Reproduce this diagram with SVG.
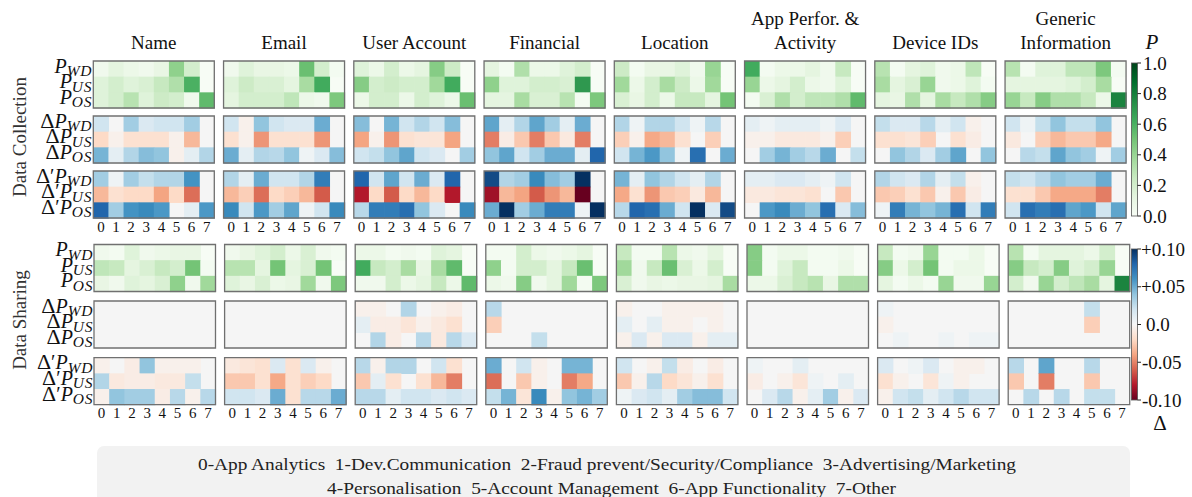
<svg xmlns="http://www.w3.org/2000/svg" width="1192" height="497" viewBox="0 0 1192 497" font-family="Liberation Serif, Times New Roman, serif">
<defs>
<style>
text{font-family:"Liberation Serif","Times New Roman","DejaVu Serif",serif;fill:#111}
.t{font-size:19px;text-anchor:middle}
.side{font-size:19px;text-anchor:middle;fill:#333}
.rl text{font-size:20px;text-anchor:end}
.d{font-size:22px}
.i{font-style:italic}
.s{font-size:15.5px;font-style:italic;letter-spacing:0.6px}
.tk{font-size:15px;text-anchor:middle}
.cb{font-size:19px}
.lg{font-size:17px;fill:#222}
.m rect{width:1.04px;height:1.04px}
.m .bg,.m .bz,.m .f{width:8px;height:3px}
.bg{fill:#f7fcf5}.bz{fill:#f5f5f5}
.f{fill:none;stroke:#707070;stroke-width:1.3;vector-effect:non-scaling-stroke}
.a1{fill:#f3fbf1}.a2{fill:#f0f9ed}.a3{fill:#ecf8e8}.a4{fill:#e9f6e4}.a5{fill:#e5f5e0}.a6{fill:#dff3da}.a7{fill:#d9f0d3}.a8{fill:#d3eecd}.a9{fill:#cdebc6}.a10{fill:#c7e9c0}.a11{fill:#bfe6b9}.a12{fill:#b8e3b1}.a13{fill:#b0dfaa}.a14{fill:#a9dca2}.a15{fill:#a1d99b}.a16{fill:#98d594}.a17{fill:#8fd18c}.a18{fill:#86cc85}.a19{fill:#7dc87d}.a20{fill:#74c476}.a21{fill:#6abf71}.a22{fill:#60ba6c}.a23{fill:#4bb062}.a24{fill:#41ab5d}.a25{fill:#2f984f}.a26{fill:#1b843f}
.b05{fill:#eef3f5}.b1{fill:#e4eef3}.b15{fill:#dbe9f2}.b2{fill:#d1e5f0}.b24{fill:#c4dfec}.b28{fill:#b8d8e9}.b3{fill:#b2d5e7}.b35{fill:#a2cde3}.b4{fill:#92c5de}.b43{fill:#86bdda}.b47{fill:#76b4d5}.b5{fill:#6bacd1}.b53{fill:#5fa5cc}.b58{fill:#4b98c6}.b6{fill:#4393c3}.b66{fill:#398abc}.b7{fill:#327db8}.b76{fill:#286fb1}.b8{fill:#2166ac}.b9{fill:#134b86}.b10{fill:#053061}
.r05{fill:#f8f0eb}.r07{fill:#f9ece5}.r1{fill:#fae9df}.r13{fill:#fbe5d8}.r16{fill:#fce1d1}.r2{fill:#fddbc7}.r24{fill:#fbcfb8}.r27{fill:#fac8af}.r33{fill:#f7b89a}.r38{fill:#f5a987}.r4{fill:#f4a582}.r44{fill:#ed9576}.r5{fill:#e37d64}.r56{fill:#dc6e58}.r6{fill:#d35b4a}.r8{fill:#b2182b}.r85{fill:#9f1228}.r10{fill:#67001f}
</style>
<linearGradient id="gp" x1="0" y1="1" x2="0" y2="0">
<stop offset="0" stop-color="#f7fcf5"/><stop offset=".125" stop-color="#e5f5e0"/><stop offset=".25" stop-color="#c7e9c0"/><stop offset=".375" stop-color="#a1d99b"/><stop offset=".5" stop-color="#74c476"/><stop offset=".625" stop-color="#41ab5d"/><stop offset=".75" stop-color="#238b45"/><stop offset=".875" stop-color="#006d2c"/><stop offset="1" stop-color="#00441b"/>
</linearGradient>
<linearGradient id="gd" x1="0" y1="1" x2="0" y2="0">
<stop offset="0" stop-color="#67001f"/><stop offset=".1" stop-color="#b2182b"/><stop offset=".2" stop-color="#d6604d"/><stop offset=".3" stop-color="#f4a582"/><stop offset=".4" stop-color="#fddbc7"/><stop offset=".5" stop-color="#f7f7f7"/><stop offset=".6" stop-color="#d1e5f0"/><stop offset=".7" stop-color="#92c5de"/><stop offset=".8" stop-color="#4393c3"/><stop offset=".9" stop-color="#2166ac"/><stop offset="1" stop-color="#053061"/>
</linearGradient>
<text id="tkc" class="tk" x="7.6 22.7 37.8 52.9 68.1 83.2 98.3 113.4" y="231.5">01234567</text>
<text id="tks" class="tk" x="7.6 22.8 38 53.2 68.3 83.5 98.7 113.9" y="417.5">01234567</text>
</defs>

<!-- column titles -->
<g id="titles" class="t">
<text x="153.8" y="49">Name</text>
<text x="284" y="49">Email</text>
<text x="414.3" y="49">User Account</text>
<text x="544.6" y="49">Financial</text>
<text x="674.8" y="49">Location</text>
<text x="805.1" y="25">App Perfor. &amp;</text>
<text x="805.1" y="49">Activity</text>
<text x="935.3" y="49">Device IDs</text>
<text x="1065.6" y="25">Generic</text>
<text x="1065.6" y="49">Information</text>
</g>

<!-- section labels -->
<text class="side" transform="translate(26 137) rotate(-90)">Data Collection</text>
<text class="side" transform="translate(26 320) rotate(-90)">Data Sharing</text>

<!-- row labels -->
<g id="row-labels" class="rl">
<text x="92" y="72.5"><tspan class="i">P</tspan><tspan class="s" dy="3.5">WD</tspan></text>
<text x="92" y="88.2"><tspan class="i">P</tspan><tspan class="s" dy="3.5">US</tspan></text>
<text x="92" y="103.8"><tspan class="i">P</tspan><tspan class="s" dy="3.5">OS</tspan></text>
<text x="92" y="127.5"><tspan class="d">Δ</tspan><tspan class="i">P</tspan><tspan class="s" dy="3.5">WD</tspan></text>
<text x="92" y="143.2"><tspan class="d">Δ</tspan><tspan class="i">P</tspan><tspan class="s" dy="3.5">US</tspan></text>
<text x="92" y="158.8"><tspan class="d">Δ</tspan><tspan class="i">P</tspan><tspan class="s" dy="3.5">OS</tspan></text>
<text x="92" y="182.5"><tspan class="d">Δ</tspan>′<tspan class="i">P</tspan><tspan class="s" dy="3.5">WD</tspan></text>
<text x="92" y="198.2"><tspan class="d">Δ</tspan>′<tspan class="i">P</tspan><tspan class="s" dy="3.5">US</tspan></text>
<text x="92" y="213.8"><tspan class="d">Δ</tspan>′<tspan class="i">P</tspan><tspan class="s" dy="3.5">OS</tspan></text>
<text x="93" y="256"><tspan class="i">P</tspan><tspan class="s" dy="3.5">WD</tspan></text>
<text x="93" y="271.7"><tspan class="i">P</tspan><tspan class="s" dy="3.5">US</tspan></text>
<text x="93" y="287.3"><tspan class="i">P</tspan><tspan class="s" dy="3.5">OS</tspan></text>
<text x="93" y="312.5"><tspan class="d">Δ</tspan><tspan class="i">P</tspan><tspan class="s" dy="3.5">WD</tspan></text>
<text x="93" y="328.2"><tspan class="d">Δ</tspan><tspan class="i">P</tspan><tspan class="s" dy="3.5">US</tspan></text>
<text x="93" y="343.8"><tspan class="d">Δ</tspan><tspan class="i">P</tspan><tspan class="s" dy="3.5">OS</tspan></text>
<text x="93" y="369.2"><tspan class="d">Δ</tspan>′<tspan class="i">P</tspan><tspan class="s" dy="3.5">WD</tspan></text>
<text x="93" y="384.9"><tspan class="d">Δ</tspan>′<tspan class="i">P</tspan><tspan class="s" dy="3.5">US</tspan></text>
<text x="93" y="400.5"><tspan class="d">Δ</tspan>′<tspan class="i">P</tspan><tspan class="s" dy="3.5">OS</tspan></text>
</g>

<!-- Name -->
<g id="col-name-p" class="m" transform="translate(93.3 61) scale(15.125 15.667)"><rect class="bg"/>
<rect class="a2"/><rect x="1" class="a5"/><rect x="2" class="a3"/><rect x="3" class="a2"/><rect x="4" class="a4"/><rect x="5" class="a17"/><rect x="6" class="a8"/>
<rect y="1" class="a6"/><rect x="1" y="1" class="a8"/><rect x="2" y="1" class="a6"/><rect x="3" y="1" class="a7"/><rect x="4" y="1" class="a10"/><rect x="5" y="1" class="a13"/><rect x="6" y="1" class="a23"/>
<rect y="2" class="a6"/><rect x="1" y="2" class="a8"/><rect x="2" y="2" class="a12"/><rect x="3" y="2" class="a6"/><rect x="4" y="2" class="a9"/><rect x="5" y="2" class="a8"/><rect x="6" y="2" class="a2"/><rect x="7" y="2" class="a22"/>
<rect class="f"/></g>
<g id="col-name-dp" class="m" transform="translate(93.3 116) scale(15.125 15.667)"><rect class="bz"/>
<rect class="b2"/><rect x="2" class="b35"/><rect x="3" class="b15"/><rect x="4" class="b2"/><rect x="5" class="b2"/><rect x="6" class="b35"/>
<rect y="1" class="r2"/><rect x="1" y="1" class="r05"/><rect x="2" y="1" class="r16"/><rect x="3" y="1" class="r16"/><rect x="4" y="1" class="r16"/><rect x="5" y="1" class="r05"/><rect x="6" y="1" class="r33"/>
<rect y="2" class="b47"/><rect x="1" y="2" class="b1"/><rect x="2" y="2" class="b3"/><rect x="3" y="2" class="b43"/><rect x="4" y="2" class="b4"/><rect x="5" y="2" class="r05"/><rect x="6" y="2" class="b1"/><rect x="7" y="2" class="b3"/>
<rect class="f"/></g>
<g id="col-name-dpp" class="m" transform="translate(93.3 171) scale(15.125 15.667)"><rect class="bz"/>
<rect class="b35"/><rect x="1" class="b05"/><rect x="2" class="b35"/><rect x="3" class="b24"/><rect x="4" class="b3"/><rect x="5" class="b3"/><rect x="6" class="b6"/>
<rect y="1" class="r33"/><rect x="1" y="1" class="r16"/><rect x="2" y="1" class="r2"/><rect x="3" y="1" class="r2"/><rect x="4" y="1" class="r4"/><rect x="5" y="1" class="r2"/><rect x="6" y="1" class="r56"/>
<rect y="2" class="b8"/><rect x="1" y="2" class="b35"/><rect x="2" y="2" class="b6"/><rect x="3" y="2" class="b66"/><rect x="4" y="2" class="b58"/><rect x="6" y="2" class="b1"/><rect x="7" y="2" class="b58"/>
<rect class="f"/></g>
<g id="sha-name-p" class="m" transform="translate(94 244.5) scale(15.1875 15.667)"><rect class="bg"/>
<rect class="a2"/><rect x="1" class="a1"/><rect x="2" class="a6"/><rect x="3" class="a2"/><rect x="4" class="a3"/><rect x="5" class="a4"/><rect x="6" class="a4"/>
<rect y="1" class="a11"/><rect x="1" y="1" class="a10"/><rect x="2" y="1" class="a5"/><rect x="3" y="1" class="a7"/><rect x="4" y="1" class="a10"/><rect x="5" y="1" class="a8"/><rect x="6" y="1" class="a20"/><rect x="7" y="1" class="a1"/>
<rect y="2" class="a4"/><rect x="1" y="2" class="a2"/><rect x="2" y="2" class="a6"/><rect x="3" y="2" class="a5"/><rect x="4" y="2" class="a7"/><rect x="5" y="2" class="a17"/><rect x="6" y="2" class="a2"/><rect x="7" y="2" class="a15"/>
<rect class="f"/></g>
<g id="sha-name-dp" class="m" transform="translate(94 301) scale(15.1875 15.667)"><rect class="bz"/><rect class="f"/></g>
<g id="sha-name-dpp" class="m" transform="translate(94 357.7) scale(15.1875 15.667)"><rect class="bz"/>
<rect class="r05"/><rect x="2" class="r07"/><rect x="3" class="b4"/><rect x="4" class="r05"/><rect x="5" class="r05"/><rect x="6" class="r05"/>
<rect y="1" class="b3"/><rect x="1" y="1" class="r1"/><rect x="2" y="1" class="r07"/><rect x="3" y="1" class="r07"/><rect x="4" y="1" class="r1"/><rect x="5" y="1" class="r1"/><rect x="6" y="1" class="b24"/>
<rect y="2" class="r05"/><rect x="1" y="2" class="b4"/><rect x="2" y="2" class="b35"/><rect x="3" y="2" class="b35"/><rect x="4" y="2" class="r07"/><rect x="5" y="2" class="b28"/><rect x="6" y="2" class="r05"/><rect x="7" y="2" class="b28"/>
<rect class="f"/></g>

<!-- Email -->
<g id="col-email-p" class="m" transform="translate(223.55 61) scale(15.125 15.667)"><rect class="bg"/>
<rect class="a2"/><rect x="1" class="a6"/><rect x="2" class="a4"/><rect x="3" class="a4"/><rect x="4" class="a3"/><rect x="5" class="a21"/><rect x="6" class="a8"/><rect x="7" class="a1"/>
<rect y="1" class="a6"/><rect x="1" y="1" class="a9"/><rect x="2" y="1" class="a7"/><rect x="3" y="1" class="a7"/><rect x="4" y="1" class="a5"/><rect x="5" y="1" class="a14"/><rect x="6" y="1" class="a24"/>
<rect y="2" class="a5"/><rect x="1" y="2" class="a8"/><rect x="2" y="2" class="a8"/><rect x="3" y="2" class="a8"/><rect x="4" y="2" class="a11"/><rect x="5" y="2" class="a3"/><rect x="6" y="2" class="a2"/><rect x="7" y="2" class="a19"/>
<rect class="f"/></g>
<g id="col-email-dp" class="m" transform="translate(223.55 116) scale(15.125 15.667)"><rect class="bz"/>
<rect class="b2"/><rect x="1" class="r05"/><rect x="2" class="b4"/><rect x="3" class="b2"/><rect x="4" class="b15"/><rect x="5" class="b15"/><rect x="6" class="b5"/>
<rect y="1" class="r16"/><rect x="1" y="1" class="r05"/><rect x="2" y="1" class="r44"/><rect x="3" y="1" class="r16"/><rect x="4" y="1" class="r16"/><rect x="5" y="1" class="r16"/><rect x="6" y="1" class="r44"/>
<rect y="2" class="b5"/><rect x="1" y="2" class="b1"/><rect x="2" y="2" class="b3"/><rect x="3" y="2" class="b28"/><rect x="4" y="2" class="b4"/><rect x="5" y="2" class="b05"/><rect x="6" y="2" class="b15"/><rect x="7" y="2" class="b43"/>
<rect class="f"/></g>
<g id="col-email-dpp" class="m" transform="translate(223.55 171) scale(15.125 15.667)"><rect class="bz"/>
<rect class="b3"/><rect x="1" class="b1"/><rect x="2" class="b5"/><rect x="3" class="b2"/><rect x="4" class="b2"/><rect x="5" class="b3"/><rect x="6" class="b7"/>
<rect y="1" class="r33"/><rect x="1" y="1" class="r24"/><rect x="2" y="1" class="r56"/><rect x="3" y="1" class="r2"/><rect x="4" y="1" class="r24"/><rect x="5" y="1" class="r33"/><rect x="6" y="1" class="r6"/>
<rect y="2" class="b66"/><rect x="1" y="2" class="b2"/><rect x="2" y="2" class="b58"/><rect x="3" y="2" class="b35"/><rect x="4" y="2" class="b53"/><rect x="5" y="2" class="b05"/><rect x="6" y="2" class="b2"/><rect x="7" y="2" class="b66"/>
<rect class="f"/></g>
<g id="sha-email-p" class="m" transform="translate(224.6 244.5) scale(15.1875 15.667)"><rect class="bg"/>
<rect class="a2"/><rect x="1" class="a4"/><rect x="2" class="a6"/><rect x="3" class="a8"/><rect x="4" class="a3"/><rect x="5" class="a7"/><rect x="6" class="a2"/><rect x="7" class="a1"/>
<rect y="1" class="a12"/><rect x="1" y="1" class="a12"/><rect x="2" y="1" class="a5"/><rect x="3" y="1" class="a20"/><rect x="4" y="1" class="a5"/><rect x="5" y="1" class="a7"/><rect x="6" y="1" class="a20"/>
<rect y="2" class="a6"/><rect x="1" y="2" class="a4"/><rect x="2" y="2" class="a7"/><rect x="3" y="2" class="a3"/><rect x="4" y="2" class="a4"/><rect x="5" y="2" class="a15"/><rect x="6" y="2" class="a2"/><rect x="7" y="2" class="a19"/>
<rect class="f"/></g>
<g id="sha-email-dp" class="m" transform="translate(224.6 301) scale(15.1875 15.667)"><rect class="bz"/><rect class="f"/></g>
<g id="sha-email-dpp" class="m" transform="translate(224.6 357.7) scale(15.1875 15.667)"><rect class="bz"/>
<rect class="r1"/><rect x="1" class="r13"/><rect x="2" class="r16"/><rect x="3" class="b15"/><rect x="4" class="r16"/><rect x="5" class="b15"/><rect x="6" class="r05"/>
<rect y="1" class="r27"/><rect x="1" y="1" class="r27"/><rect x="2" y="1" class="r16"/><rect x="3" y="1" class="r38"/><rect x="4" y="1" class="r16"/><rect x="5" y="1" class="r24"/><rect x="6" y="1" class="r2"/>
<rect y="2" class="b2"/><rect x="1" y="2" class="b2"/><rect x="2" y="2" class="b15"/><rect x="3" y="2" class="b5"/><rect x="4" y="2" class="r16"/><rect x="5" y="2" class="b28"/><rect x="6" y="2" class="b28"/><rect x="7" y="2" class="b5"/>
<rect class="f"/></g>

<!-- User Account -->
<g id="col-user-p" class="m" transform="translate(353.8 61) scale(15.125 15.667)"><rect class="bg"/>
<rect class="a6"/><rect x="1" class="a3"/><rect x="2" class="a8"/><rect x="3" class="a3"/><rect x="4" class="a5"/><rect x="5" class="a18"/><rect x="6" class="a9"/>
<rect y="1" class="a18"/><rect x="1" y="1" class="a8"/><rect x="2" y="1" class="a9"/><rect x="3" y="1" class="a8"/><rect x="4" y="1" class="a8"/><rect x="5" y="1" class="a15"/><rect x="6" y="1" class="a24"/>
<rect y="2" class="a3"/><rect x="1" y="2" class="a8"/><rect x="2" y="2" class="a8"/><rect x="3" y="2" class="a3"/><rect x="4" y="2" class="a8"/><rect x="5" y="2" class="a6"/><rect x="6" y="2" class="a3"/><rect x="7" y="2" class="a21"/>
<rect class="f"/></g>
<g id="col-user-dp" class="m" transform="translate(353.8 116) scale(15.125 15.667)"><rect class="bz"/>
<rect class="b43"/><rect x="2" class="b47"/><rect x="3" class="b2"/><rect x="4" class="b3"/><rect x="5" class="b2"/><rect x="6" class="b43"/>
<rect y="1" class="r4"/><rect x="1" y="1" class="r05"/><rect x="2" y="1" class="r44"/><rect x="3" y="1" class="r16"/><rect x="4" y="1" class="r13"/><rect x="5" y="1" class="r13"/><rect x="6" y="1" class="r4"/>
<rect y="2" class="b2"/><rect x="1" y="2" class="b24"/><rect x="2" y="2" class="b4"/><rect x="3" y="2" class="b53"/><rect x="4" y="2" class="b2"/><rect x="5" y="2" class="b15"/><rect x="7" y="2" class="b35"/>
<rect class="f"/></g>
<g id="col-user-dpp" class="m" transform="translate(353.8 171) scale(15.125 15.667)"><rect class="bz"/>
<rect class="b8"/><rect x="1" class="b2"/><rect x="2" class="b53"/><rect x="3" class="b2"/><rect x="4" class="b5"/><rect x="5" class="b15"/><rect x="6" class="b8"/>
<rect y="1" class="r8"/><rect x="1" y="1" class="r2"/><rect x="2" y="1" class="r6"/><rect x="3" y="1" class="r2"/><rect x="4" y="1" class="r33"/><rect x="5" y="1" class="r2"/><rect x="6" y="1" class="r8"/>
<rect y="2" class="b28"/><rect x="1" y="2" class="b7"/><rect x="2" y="2" class="b7"/><rect x="3" y="2" class="b76"/><rect x="4" y="2" class="b4"/><rect x="5" y="2" class="b15"/><rect x="7" y="2" class="b66"/>
<rect class="f"/></g>
<g id="sha-user-p" class="m" transform="translate(355.2 244.5) scale(15.1875 15.667)"><rect class="bg"/>
<rect class="a3"/><rect x="1" class="a3"/><rect x="2" class="a1"/><rect x="3" class="a2"/><rect x="4" class="a1"/><rect x="5" class="a6"/><rect x="6" class="a5"/>
<rect y="1" class="a24"/><rect x="1" y="1" class="a10"/><rect x="2" y="1" class="a8"/><rect x="3" y="1" class="a14"/><rect x="4" y="1" class="a4"/><rect x="5" y="1" class="a14"/><rect x="6" y="1" class="a22"/>
<rect y="2" class="a2"/><rect x="1" y="2" class="a2"/><rect x="2" y="2" class="a8"/><rect x="3" y="2" class="a3"/><rect x="4" y="2" class="a5"/><rect x="5" y="2" class="a10"/><rect x="6" y="2" class="a3"/><rect x="7" y="2" class="a22"/>
<rect class="f"/></g>
<g id="sha-user-dp" class="m" transform="translate(355.2 301) scale(15.1875 15.667)"><rect class="bz"/>
<rect class="r05"/><rect x="1" class="r05"/><rect x="3" class="b3"/><rect x="5" class="r05"/><rect x="6" class="r07"/>
<rect y="1" class="b1"/><rect x="1" y="1" class="r07"/><rect x="2" y="1" class="r07"/><rect x="3" y="1" class="r13"/><rect x="4" y="1" class="r05"/><rect x="5" y="1" class="r1"/><rect x="6" y="1" class="r16"/>
<rect x="1" y="2" class="b3"/><rect x="2" y="2" class="r07"/><rect x="4" y="2" class="b28"/><rect x="5" y="2" class="r1"/><rect x="6" y="2" class="b28"/><rect x="7" y="2" class="b15"/>
<rect class="f"/></g>
<g id="sha-user-dpp" class="m" transform="translate(355.2 357.7) scale(15.1875 15.667)"><rect class="bz"/>
<rect class="b28"/><rect x="1" class="r05"/><rect x="2" class="b3"/><rect x="3" class="b3"/><rect x="5" class="b2"/><rect x="6" class="r16"/>
<rect y="1" class="r27"/><rect x="1" y="1" class="b1"/><rect x="2" y="1" class="r16"/><rect x="4" y="1" class="r16"/><rect x="5" y="1" class="r33"/><rect x="6" y="1" class="r5"/>
<rect y="2" class="b28"/><rect x="1" y="2" class="b28"/><rect x="2" y="2" class="b1"/><rect x="3" y="2" class="b2"/><rect x="4" y="2" class="b2"/><rect x="5" y="2" class="b15"/><rect x="6" y="2" class="b2"/><rect x="7" y="2" class="b15"/>
<rect class="f"/></g>

<!-- Financial -->
<g id="col-fin-p" class="m" transform="translate(484.05 61) scale(15.125 15.667)"><rect class="bg"/>
<rect class="a5"/><rect x="1" class="a1"/><rect x="2" class="a13"/><rect x="3" class="a3"/><rect x="4" class="a3"/><rect x="5" class="a6"/><rect x="6" class="a8"/>
<rect y="1" class="a17"/><rect x="1" y="1" class="a6"/><rect x="2" y="1" class="a6"/><rect x="3" y="1" class="a8"/><rect x="4" y="1" class="a8"/><rect x="5" y="1" class="a7"/><rect x="6" y="1" class="a25"/>
<rect y="2" class="a5"/><rect x="1" y="2" class="a5"/><rect x="2" y="2" class="a14"/><rect x="3" y="2" class="a7"/><rect x="4" y="2" class="a7"/><rect x="5" y="2" class="a12"/><rect x="6" y="2" class="a1"/><rect x="7" y="2" class="a19"/>
<rect class="f"/></g>
<g id="col-fin-dp" class="m" transform="translate(484.05 116) scale(15.125 15.667)"><rect class="bz"/>
<rect class="b53"/><rect x="1" class="b1"/><rect x="2" class="b3"/><rect x="3" class="b53"/><rect x="4" class="b35"/><rect x="5" class="b1"/><rect x="6" class="b5"/>
<rect y="1" class="r5"/><rect x="1" y="1" class="r07"/><rect x="2" y="1" class="r27"/><rect x="3" y="1" class="r5"/><rect x="4" y="1" class="r27"/><rect x="5" y="1" class="r1"/><rect x="6" y="1" class="r5"/>
<rect y="2" class="b4"/><rect x="1" y="2" class="b53"/><rect x="2" y="2" class="b2"/><rect x="3" y="2" class="b35"/><rect x="4" y="2" class="b5"/><rect x="5" y="2" class="b5"/><rect x="6" y="2" class="b1"/><rect x="7" y="2" class="b8"/>
<rect class="f"/></g>
<g id="col-fin-dpp" class="m" transform="translate(484.05 171) scale(15.125 15.667)"><rect class="bz"/>
<rect class="b9"/><rect x="1" class="b3"/><rect x="2" class="b35"/><rect x="3" class="b66"/><rect x="4" class="b43"/><rect x="5" class="b35"/><rect x="6" class="b10"/>
<rect y="1" class="r85"/><rect x="1" y="1" class="r33"/><rect x="2" y="1" class="r4"/><rect x="3" y="1" class="r6"/><rect x="4" y="1" class="r44"/><rect x="5" y="1" class="r33"/><rect x="6" y="1" class="r10"/>
<rect y="2" class="b5"/><rect x="1" y="2" class="b10"/><rect x="2" y="2" class="b35"/><rect x="3" y="2" class="b5"/><rect x="4" y="2" class="b7"/><rect x="5" y="2" class="b7"/><rect x="6" y="2" class="b05"/><rect x="7" y="2" class="b10"/>
<rect class="f"/></g>
<g id="sha-fin-p" class="m" transform="translate(485.8 244.5) scale(15.1875 15.667)"><rect class="bg"/>
<rect class="a1"/><rect x="1" class="a1"/><rect x="2" class="a8"/><rect x="3" class="a3"/><rect x="4" class="a2"/><rect x="5" class="a3"/><rect x="6" class="a5"/>
<rect y="1" class="a17"/><rect x="1" y="1" class="a1"/><rect x="2" y="1" class="a8"/><rect x="3" y="1" class="a8"/><rect x="4" y="1" class="a5"/><rect x="5" y="1" class="a10"/><rect x="6" y="1" class="a21"/>
<rect y="2" class="a3"/><rect x="1" y="2" class="a2"/><rect x="2" y="2" class="a18"/><rect x="3" y="2" class="a2"/><rect x="4" y="2" class="a5"/><rect x="5" y="2" class="a15"/><rect x="6" y="2" class="a1"/><rect x="7" y="2" class="a19"/>
<rect class="f"/></g>
<g id="sha-fin-dp" class="m" transform="translate(485.8 301) scale(15.1875 15.667)"><rect class="bz"/>
<rect class="b28"/><rect y="1" class="r24"/><rect x="3" y="2" class="b24"/>
<rect class="f"/></g>
<g id="sha-fin-dpp" class="m" transform="translate(485.8 357.7) scale(15.1875 15.667)"><rect class="bz"/>
<rect class="b5"/><rect x="2" class="b2"/><rect x="3" class="r05"/><rect x="5" class="b47"/><rect x="6" class="b47"/>
<rect y="1" class="r56"/><rect x="2" y="1" class="r27"/><rect x="3" y="1" class="r05"/><rect x="5" y="1" class="r5"/><rect x="6" y="1" class="r38"/>
<rect y="2" class="b24"/><rect x="1" y="2" class="b47"/><rect x="2" y="2" class="r13"/><rect x="3" y="2" class="b66"/><rect x="4" y="2" class="r05"/><rect x="5" y="2" class="b4"/><rect x="6" y="2" class="b47"/><rect x="7" y="2" class="b35"/>
<rect class="f"/></g>

<!-- Location -->
<g id="col-loc-p" class="m" transform="translate(614.3 61) scale(15.125 15.667)"><rect class="bg"/>
<rect class="a9"/><rect x="1" class="a1"/><rect x="2" class="a4"/><rect x="3" class="a4"/><rect x="4" class="a6"/><rect x="5" class="a2"/><rect x="6" class="a16"/>
<rect y="1" class="a15"/><rect x="1" y="1" class="a3"/><rect x="2" y="1" class="a8"/><rect x="3" y="1" class="a14"/><rect x="4" y="1" class="a9"/><rect x="5" y="1" class="a3"/><rect x="6" y="1" class="a15"/>
<rect y="2" class="a7"/><rect x="1" y="2" class="a4"/><rect x="2" y="2" class="a8"/><rect x="3" y="2" class="a3"/><rect x="4" y="2" class="a10"/><rect x="5" y="2" class="a10"/><rect x="6" y="2" class="a5"/><rect x="7" y="2" class="a20"/>
<rect class="f"/></g>
<g id="col-loc-dp" class="m" transform="translate(614.3 116) scale(15.125 15.667)"><rect class="bz"/>
<rect class="b3"/><rect x="1" class="b05"/><rect x="2" class="b3"/><rect x="3" class="b3"/><rect x="4" class="b2"/><rect x="5" class="b05"/><rect x="6" class="b28"/>
<rect y="1" class="r24"/><rect x="1" y="1" class="r05"/><rect x="2" y="1" class="r38"/><rect x="3" y="1" class="r33"/><rect x="4" y="1" class="r16"/><rect x="6" y="1" class="r24"/>
<rect y="2" class="b2"/><rect x="1" y="2" class="b47"/><rect x="2" y="2" class="b58"/><rect x="3" y="2" class="b4"/><rect x="4" y="2" class="b05"/><rect x="5" y="2" class="b76"/><rect x="7" y="2" class="b5"/>
<rect class="f"/></g>
<g id="col-loc-dpp" class="m" transform="translate(614.3 171) scale(15.125 15.667)"><rect class="bz"/>
<rect class="b47"/><rect x="1" class="b1"/><rect x="2" class="b4"/><rect x="3" class="b3"/><rect x="4" class="b2"/><rect x="5" class="b1"/><rect x="6" class="b3"/>
<rect y="1" class="r38"/><rect x="1" y="1" class="r16"/><rect x="2" y="1" class="r44"/><rect x="3" y="1" class="r27"/><rect x="4" y="1" class="r24"/><rect x="5" y="1" class="r1"/><rect x="6" y="1" class="r33"/>
<rect y="2" class="b28"/><rect x="1" y="2" class="b8"/><rect x="2" y="2" class="b76"/><rect x="3" y="2" class="b5"/><rect x="4" y="2" class="b2"/><rect x="5" y="2" class="b10"/><rect x="6" y="2" class="b15"/><rect x="7" y="2" class="b9"/>
<rect class="f"/></g>
<g id="sha-loc-p" class="m" transform="translate(616.4 244.5) scale(15.1875 15.667)"><rect class="bg"/>
<rect class="a10"/><rect x="1" class="a1"/><rect x="2" class="a1"/><rect x="3" class="a12"/><rect x="4" class="a3"/><rect x="5" class="a2"/><rect x="6" class="a5"/>
<rect y="1" class="a15"/><rect x="1" y="1" class="a2"/><rect x="2" y="1" class="a10"/><rect x="3" y="1" class="a21"/><rect x="4" y="1" class="a7"/><rect x="5" y="1" class="a3"/><rect x="6" y="1" class="a8"/>
<rect y="2" class="a7"/><rect x="1" y="2" class="a2"/><rect x="2" y="2" class="a4"/><rect x="3" y="2" class="a3"/><rect x="4" y="2" class="a4"/><rect x="5" y="2" class="a4"/><rect x="6" y="2" class="a5"/><rect x="7" y="2" class="a14"/>
<rect class="f"/></g>
<g id="sha-loc-dp" class="m" transform="translate(616.4 301) scale(15.1875 15.667)"><rect class="bz"/>
<rect class="r05"/><rect x="3" class="r05"/><rect x="4" class="r05"/><rect x="5" class="r05"/><rect x="6" class="r05"/>
<rect y="1" class="b1"/><rect x="2" y="1" class="b1"/><rect x="3" y="1" class="r05"/><rect x="4" y="1" class="r05"/><rect x="6" y="1" class="r05"/>
<rect y="2" class="r05"/><rect x="1" y="2" class="b15"/><rect x="2" y="2" class="r05"/><rect x="3" y="2" class="b15"/><rect x="4" y="2" class="b15"/><rect x="5" y="2" class="r05"/><rect x="6" y="2" class="b1"/><rect x="7" y="2" class="b1"/>
<rect class="f"/></g>
<g id="sha-loc-dpp" class="m" transform="translate(616.4 357.7) scale(15.1875 15.667)"><rect class="bz"/>
<rect class="b2"/><rect x="2" class="r05"/><rect x="3" class="b24"/><rect x="4" class="r07"/><rect x="6" class="r07"/>
<rect y="1" class="r27"/><rect x="1" y="1" class="r05"/><rect x="2" y="1" class="b28"/><rect x="3" y="1" class="r2"/><rect x="4" y="1" class="r13"/><rect x="5" y="1" class="r05"/><rect x="6" y="1" class="r16"/>
<rect y="2" class="b05"/><rect x="1" y="2" class="b15"/><rect x="2" y="2" class="b2"/><rect x="3" y="2" class="b1"/><rect x="4" y="2" class="b35"/><rect x="5" y="2" class="b43"/><rect x="6" y="2" class="b43"/><rect x="7" y="2" class="b2"/>
<rect class="f"/></g>

<!-- App Perfor. & Activity -->
<g id="col-app-p" class="m" transform="translate(744.55 61) scale(15.125 15.667)"><rect class="bg"/>
<rect class="a24"/><rect x="1" class="a1"/><rect x="2" class="a3"/><rect x="3" class="a3"/><rect x="4" class="a5"/><rect x="5" class="a2"/><rect x="6" class="a10"/>
<rect y="1" class="a16"/><rect x="1" y="1" class="a3"/><rect x="2" y="1" class="a5"/><rect x="3" y="1" class="a8"/><rect x="4" y="1" class="a3"/><rect x="5" y="1" class="a2"/><rect x="6" y="1" class="a6"/>
<rect y="2" class="a1"/><rect x="1" y="2" class="a7"/><rect x="2" y="2" class="a13"/><rect x="3" y="2" class="a8"/><rect x="4" y="2" class="a11"/><rect x="5" y="2" class="a11"/><rect x="6" y="2" class="a13"/><rect x="7" y="2" class="a22"/>
<rect class="f"/></g>
<g id="col-app-dp" class="m" transform="translate(744.55 116) scale(15.125 15.667)"><rect class="bz"/>
<rect class="b1"/><rect x="1" class="b05"/><rect x="2" class="b1"/><rect x="3" class="b1"/><rect x="4" class="b1"/><rect x="5" class="b05"/><rect x="6" class="b15"/>
<rect y="1" class="r05"/><rect x="1" y="1" class="r05"/><rect x="2" y="1" class="r1"/><rect x="3" y="1" class="r1"/><rect x="4" y="1" class="r1"/><rect x="5" y="1" class="r05"/><rect x="6" y="1" class="r24"/>
<rect x="1" y="2" class="b35"/><rect x="2" y="2" class="b47"/><rect x="3" y="2" class="b35"/><rect x="4" y="2" class="b28"/><rect x="5" y="2" class="b5"/><rect x="7" y="2" class="b24"/>
<rect class="f"/></g>
<g id="col-app-dpp" class="m" transform="translate(744.55 171) scale(15.125 15.667)"><rect class="bz"/>
<rect class="b1"/><rect x="1" class="b1"/><rect x="2" class="b15"/><rect x="3" class="b15"/><rect x="4" class="b1"/><rect x="5" class="b05"/><rect x="6" class="b2"/>
<rect y="1" class="r1"/><rect x="1" y="1" class="r1"/><rect x="2" y="1" class="r13"/><rect x="3" y="1" class="r13"/><rect x="4" y="1" class="r16"/><rect x="6" y="1" class="r27"/>
<rect x="1" y="2" class="b58"/><rect x="2" y="2" class="b66"/><rect x="3" y="2" class="b5"/><rect x="4" y="2" class="b4"/><rect x="5" y="2" class="b76"/><rect x="6" y="2" class="b15"/><rect x="7" y="2" class="b43"/>
<rect class="f"/></g>
<g id="sha-app-p" class="m" transform="translate(747 244.5) scale(15.1875 15.667)"><rect class="bg"/>
<rect class="a18"/><rect x="1" class="a1"/><rect x="2" class="a3"/><rect x="3" class="a3"/><rect x="4" class="a1"/><rect x="5" class="a1"/><rect x="6" class="a2"/>
<rect y="1" class="a18"/><rect x="1" y="1" class="a1"/><rect x="2" y="1" class="a6"/><rect x="3" y="1" class="a10"/><rect x="4" y="1" class="a1"/><rect x="5" y="1" class="a1"/><rect x="6" y="1" class="a3"/>
<rect y="2" class="a3"/><rect x="1" y="2" class="a3"/><rect x="2" y="2" class="a7"/><rect x="3" y="2" class="a10"/><rect x="4" y="2" class="a12"/><rect x="5" y="2" class="a4"/><rect x="6" y="2" class="a13"/><rect x="7" y="2" class="a13"/>
<rect class="f"/></g>
<g id="sha-app-dp" class="m" transform="translate(747 301) scale(15.1875 15.667)"><rect class="bz"/><rect class="f"/></g>
<g id="sha-app-dpp" class="m" transform="translate(747 357.7) scale(15.1875 15.667)"><rect class="bz"/>
<rect class="b05"/><rect x="3" class="b1"/>
<rect y="1" class="r07"/><rect x="2" y="1" class="r05"/><rect x="3" y="1" class="r13"/><rect x="4" y="1" class="b05"/><rect x="6" y="1" class="b1"/>
<rect x="1" y="2" class="b15"/><rect x="2" y="2" class="b28"/><rect x="3" y="2" class="r05"/><rect x="4" y="2" class="b1"/><rect x="5" y="2" class="b35"/><rect x="6" y="2" class="r05"/><rect x="7" y="2" class="b15"/>
<rect class="f"/></g>

<!-- Device IDs -->
<g id="col-dev-p" class="m" transform="translate(874.8 61) scale(15.125 15.667)"><rect class="bg"/>
<rect class="a12"/><rect x="1" class="a1"/><rect x="2" class="a5"/><rect x="3" class="a6"/><rect x="4" class="a2"/><rect x="5" class="a3"/><rect x="6" class="a11"/>
<rect y="1" class="a14"/><rect x="1" y="1" class="a5"/><rect x="2" y="1" class="a7"/><rect x="3" y="1" class="a16"/><rect x="4" y="1" class="a2"/><rect x="5" y="1" class="a3"/><rect x="6" y="1" class="a6"/><rect x="7" y="1" class="a1"/>
<rect y="2" class="a5"/><rect x="1" y="2" class="a4"/><rect x="2" y="2" class="a13"/><rect x="3" y="2" class="a5"/><rect x="4" y="2" class="a14"/><rect x="5" y="2" class="a10"/><rect x="6" y="2" class="a13"/><rect x="7" y="2" class="a18"/>
<rect class="f"/></g>
<g id="col-dev-dp" class="m" transform="translate(874.8 116) scale(15.125 15.667)"><rect class="bz"/>
<rect class="b24"/><rect x="1" class="b15"/><rect x="2" class="b15"/><rect x="3" class="b28"/><rect x="4" class="b1"/><rect x="5" class="b2"/><rect x="6" class="r05"/>
<rect y="1" class="r16"/><rect x="1" y="1" class="r16"/><rect x="2" y="1" class="r13"/><rect x="3" y="1" class="r24"/><rect x="5" y="1" class="r16"/><rect x="6" y="1" class="r07"/>
<rect x="1" y="2" class="b4"/><rect x="2" y="2" class="b3"/><rect x="3" y="2" class="b15"/><rect x="4" y="2" class="b35"/><rect x="5" y="2" class="b53"/><rect x="7" y="2" class="b4"/>
<rect class="f"/></g>
<g id="col-dev-dpp" class="m" transform="translate(874.8 171) scale(15.125 15.667)"><rect class="bz"/>
<rect class="b3"/><rect x="1" class="b2"/><rect x="2" class="b15"/><rect x="3" class="b3"/><rect x="4" class="b1"/><rect x="5" class="b24"/><rect x="6" class="r05"/>
<rect y="1" class="r27"/><rect x="1" y="1" class="r24"/><rect x="2" y="1" class="r16"/><rect x="3" y="1" class="r27"/><rect x="4" y="1" class="r05"/><rect x="5" y="1" class="r27"/><rect x="6" y="1" class="r07"/>
<rect y="2" class="b05"/><rect x="1" y="2" class="b7"/><rect x="2" y="2" class="b47"/><rect x="3" y="2" class="b4"/><rect x="4" y="2" class="b47"/><rect x="5" y="2" class="b76"/><rect x="6" y="2" class="b2"/><rect x="7" y="2" class="b7"/>
<rect class="f"/></g>
<g id="sha-dev-p" class="m" transform="translate(877.6 244.5) scale(15.1875 15.667)"><rect class="bg"/>
<rect class="a10"/><rect x="1" class="a1"/><rect x="2" class="a2"/><rect x="3" class="a16"/><rect x="4" class="a1"/><rect x="5" class="a1"/><rect x="6" class="a3"/>
<rect y="1" class="a18"/><rect x="1" y="1" class="a3"/><rect x="2" y="1" class="a8"/><rect x="3" y="1" class="a20"/><rect x="4" y="1" class="a1"/><rect x="5" y="1" class="a3"/><rect x="6" y="1" class="a3"/>
<rect y="2" class="a5"/><rect x="1" y="2" class="a1"/><rect x="2" y="2" class="a3"/><rect x="3" y="2" class="a1"/><rect x="4" y="2" class="a16"/><rect x="5" y="2" class="a2"/><rect x="6" y="2" class="a2"/><rect x="7" y="2" class="a16"/>
<rect class="f"/></g>
<g id="sha-dev-dp" class="m" transform="translate(877.6 301) scale(15.1875 15.667)"><rect class="bz"/>
<rect class="b05"/><rect y="1" class="r05"/><rect x="1" y="2" class="b05"/><rect x="4" y="2" class="b05"/><rect x="6" y="2" class="b05"/><rect x="7" y="2" class="b05"/>
<rect class="f"/></g>
<g id="sha-dev-dpp" class="m" transform="translate(877.6 357.7) scale(15.1875 15.667)"><rect class="bz"/>
<rect class="b15"/><rect x="2" class="b05"/><rect x="3" class="b15"/><rect x="5" class="r05"/><rect x="6" class="r05"/>
<rect y="1" class="r16"/><rect x="1" y="1" class="r05"/><rect x="3" y="1" class="r13"/><rect x="4" y="1" class="b05"/><rect x="5" y="1" class="r05"/>
<rect y="2" class="r05"/><rect x="1" y="2" class="b2"/><rect x="2" y="2" class="b24"/><rect x="3" y="2" class="b1"/><rect x="4" y="2" class="b2"/><rect x="5" y="2" class="b28"/><rect x="6" y="2" class="b2"/><rect x="7" y="2" class="b2"/>
<rect class="f"/></g>

<!-- Generic Information -->
<g id="col-gen-p" class="m" transform="translate(1005.05 61) scale(15.125 15.667)"><rect class="bg"/>
<rect class="a12"/><rect x="1" class="a1"/><rect x="2" class="a6"/><rect x="3" class="a6"/><rect x="4" class="a11"/><rect x="5" class="a11"/><rect x="6" class="a19"/><rect x="7" class="a1"/>
<rect y="1" class="a5"/><rect x="1" y="1" class="a5"/><rect x="2" y="1" class="a5"/><rect x="3" y="1" class="a5"/><rect x="4" y="1" class="a6"/><rect x="5" y="1" class="a8"/><rect x="6" y="1" class="a14"/>
<rect y="2" class="a16"/><rect x="1" y="2" class="a10"/><rect x="2" y="2" class="a18"/><rect x="3" y="2" class="a13"/><rect x="4" y="2" class="a13"/><rect x="5" y="2" class="a10"/><rect x="6" y="2" class="a3"/><rect x="7" y="2" class="a26"/>
<rect class="f"/></g>
<g id="col-gen-dp" class="m" transform="translate(1005.05 116) scale(15.125 15.667)"><rect class="bz"/>
<rect class="b2"/><rect x="1" class="b05"/><rect x="2" class="b24"/><rect x="3" class="b4"/><rect x="4" class="b24"/><rect x="5" class="b24"/><rect x="6" class="b4"/>
<rect y="1" class="r1"/><rect x="2" y="1" class="r24"/><rect x="3" y="1" class="r33"/><rect x="4" y="1" class="r27"/><rect x="5" y="1" class="r27"/><rect x="6" y="1" class="r38"/>
<rect x="1" y="2" class="b28"/><rect x="2" y="2" class="b24"/><rect x="3" y="2" class="b53"/><rect x="4" y="2" class="b4"/><rect x="5" y="2" class="b35"/><rect x="6" y="2" class="b05"/><rect x="7" y="2" class="b35"/>
<rect class="f"/></g>
<g id="col-gen-dpp" class="m" transform="translate(1005.05 171) scale(15.125 15.667)"><rect class="bz"/>
<rect class="b24"/><rect x="1" class="b2"/><rect x="2" class="b28"/><rect x="3" class="b4"/><rect x="4" class="b35"/><rect x="5" class="b35"/><rect x="6" class="b5"/>
<rect y="1" class="r16"/><rect x="1" y="1" class="r16"/><rect x="2" y="1" class="r27"/><rect x="3" y="1" class="r38"/><rect x="4" y="1" class="r38"/><rect x="5" y="1" class="r38"/><rect x="6" y="1" class="r5"/>
<rect y="2" class="b2"/><rect x="1" y="2" class="b76"/><rect x="2" y="2" class="b7"/><rect x="3" y="2" class="b76"/><rect x="4" y="2" class="b53"/><rect x="5" y="2" class="b58"/><rect x="6" y="2" class="b2"/><rect x="7" y="2" class="b53"/>
<rect class="f"/></g>
<g id="sha-gen-p" class="m" transform="translate(1008.2 244.5) scale(15.1875 15.667)"><rect class="bg"/>
<rect class="a12"/><rect x="1" class="a1"/><rect x="2" class="a5"/><rect x="3" class="a5"/><rect x="4" class="a5"/><rect x="5" class="a3"/><rect x="6" class="a8"/>
<rect y="1" class="a18"/><rect x="1" y="1" class="a10"/><rect x="2" y="1" class="a8"/><rect x="3" y="1" class="a18"/><rect x="4" y="1" class="a6"/><rect x="5" y="1" class="a8"/><rect x="6" y="1" class="a16"/>
<rect y="2" class="a8"/><rect x="1" y="2" class="a2"/><rect x="2" y="2" class="a16"/><rect x="3" y="2" class="a8"/><rect x="4" y="2" class="a11"/><rect x="5" y="2" class="a14"/><rect x="6" y="2" class="a5"/><rect x="7" y="2" class="a26"/>
<rect class="f"/></g>
<g id="sha-gen-dp" class="m" transform="translate(1008.2 301) scale(15.1875 15.667)"><rect class="bz"/>
<rect x="5" class="b24"/><rect x="5" y="1" class="r24"/>
<rect class="f"/></g>
<g id="sha-gen-dpp" class="m" transform="translate(1008.2 357.7) scale(15.1875 15.667)"><rect class="bz"/>
<rect class="b28"/><rect x="2" class="b53"/><rect x="5" class="b28"/>
<rect y="1" class="r27"/><rect x="2" y="1" class="r5"/><rect x="5" y="1" class="r27"/>
<rect x="1" y="2" class="b28"/><rect x="3" y="2" class="b28"/><rect x="5" y="2" class="b24"/><rect x="6" y="2" class="b24"/>
<rect class="f"/></g>

<!-- purpose index ticks under each block -->
<g id="ticks">
<use href="#tkc" x="93.3"/><use href="#tkc" x="223.55"/><use href="#tkc" x="353.8"/><use href="#tkc" x="484.05"/><use href="#tkc" x="614.3"/><use href="#tkc" x="744.55"/><use href="#tkc" x="874.8"/><use href="#tkc" x="1005.05"/>
<use href="#tks" x="94"/><use href="#tks" x="224.6"/><use href="#tks" x="355.2"/><use href="#tks" x="485.8"/><use href="#tks" x="616.4"/><use href="#tks" x="747"/><use href="#tks" x="877.6"/><use href="#tks" x="1008.2"/>
</g>

<!-- colour bars -->
<g id="cbar-p" class="cb">
<text x="1152" y="49" class="i" text-anchor="middle" font-size="21">P</text>
<rect x="1131.5" y="63" width="6" height="153" fill="url(#gp)" stroke="#555" stroke-width="0.8"/>
<path d="M1137.5 63h3.5M1137.5 93.6h3.5M1137.5 124.2h3.5M1137.5 154.8h3.5M1137.5 185.4h3.5M1137.5 216h3.5" stroke="#222" stroke-width="1"/>
<text x="1143" y="69.5">1.0</text><text x="1143" y="100.1">0.8</text><text x="1143" y="130.7">0.6</text><text x="1143" y="161.3">0.4</text><text x="1143" y="191.9">0.2</text><text x="1143" y="222.5">0.0</text>
</g>
<g id="cbar-d" class="cb">
<rect x="1131.5" y="249" width="6" height="151" fill="url(#gd)" stroke="#555" stroke-width="0.8"/>
<path d="M1137.5 249h3.5M1137.5 286.75h3.5M1137.5 324.5h3.5M1137.5 362.25h3.5M1137.5 400h3.5" stroke="#222" stroke-width="1"/>
<text x="1141" y="255.5">+0.10</text><text x="1141" y="293.2">+0.05</text><text x="1146" y="331">0.0</text><text x="1142" y="368.7">-0.05</text><text x="1142" y="406.5">-0.10</text>
<text x="1160" y="430" text-anchor="middle" font-size="21">Δ</text>
</g>

<!-- purpose legend -->
<g id="legend">
<rect x="97" y="446" width="1033" height="62" rx="7" fill="#f2f2f2"/>
<text class="lg" x="198" y="469.5" textLength="818" lengthAdjust="spacingAndGlyphs" xml:space="preserve">0-App Analytics  1-Dev.Communication  2-Fraud prevent/Security/Compliance  3-Advertising/Marketing</text>
<text class="lg" x="327" y="493.5" textLength="569" lengthAdjust="spacingAndGlyphs" xml:space="preserve">4-Personalisation  5-Account Management  6-App Functionality  7-Other</text>
</g>
</svg>
